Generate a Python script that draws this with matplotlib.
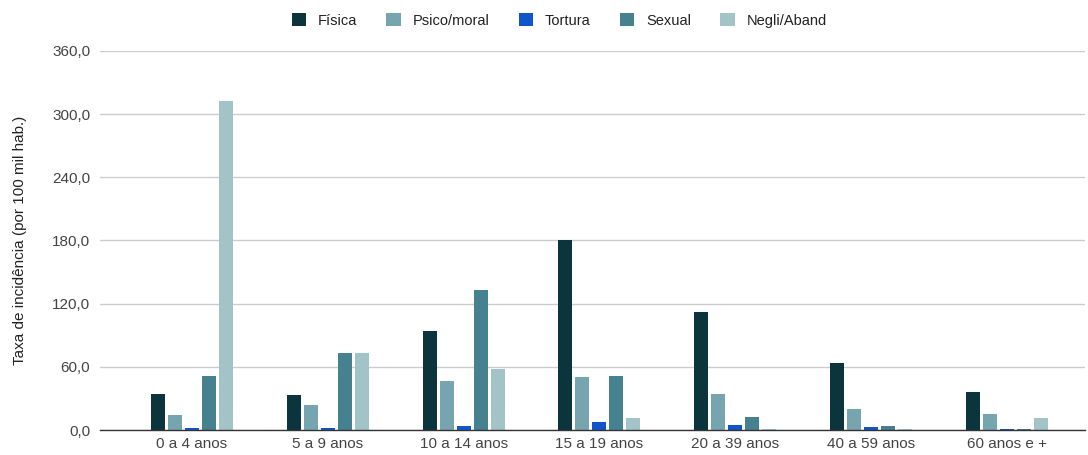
import matplotlib
matplotlib.use("Agg")
import matplotlib.pyplot as plt
import numpy as np

plt.rcParams['font.family'] = ['Liberation Sans', 'DejaVu Sans']

categories = ["0 a 4 anos", "5 a 9 anos", "10 a 14 anos", "15 a 19 anos",
              "20 a 39 anos", "40 a 59 anos", "60 anos e +"]
series_names = ["Física", "Psico/moral", "Tortura", "Sexual", "Negli/Aband"]
fisica = [34.2, 33.2, 94.0, 180.5, 112.0, 63.6, 36.0]
psico = [14.2, 23.7, 46.5, 50.3, 34.2, 20.0, 15.2]
tortura = [1.5, 1.5, 3.8, 7.6, 4.8, 2.8, 1.2]
sexual = [51.3, 73.1, 133.0, 51.3, 12.3, 3.8, 1.2]
negli = [312.5, 73.1, 58.0, 11.4, 1.0, 1.0, 11.4]
yticks = [0, 60, 120, 180, 240, 300, 360]
colors = ["#0c343d", "#76a5af", "#1155cc", "#45818e", "#a2c4c9"]

series = [fisica, psico, tortura, sexual, negli]

fig = plt.figure(figsize=(10.88, 4.55), dpi=100)
ax = fig.add_axes([100/1088, 25/455, 985/1088, 379/455])

x = np.arange(len(categories))
step = 0.125
width = 0.103
for i, (vals, c, name) in enumerate(zip(series, colors, series_names)):
    ax.bar(x + (i - 2) * step, vals, width=width, color=c, label=name, zorder=3)

ax.set_xlim(-0.677, 6.575)
ax.set_ylim(0, 360)
ax.set_yticks(yticks)
ax.set_yticklabels([f"{v:.1f}".replace(".", ",") for v in yticks])
ax.set_xticks(x)
ax.set_xticklabels(categories)
ax.tick_params(axis='both', length=0, labelsize=11, colors="#444444")
ax.tick_params(axis='y', pad=7)
ax.tick_params(axis='x', pad=5)
ax.grid(axis='y', color="#cccccc", linewidth=1, zorder=0)
for s in ['top', 'right', 'left']:
    ax.spines[s].set_visible(False)
ax.spines['bottom'].set_color("#333333")
ax.spines['bottom'].set_linewidth(1)
ax.spines['bottom'].set_zorder(4)

ax.set_ylabel("Taxa de incidência (por 100 mil hab.)", fontsize=11, color="#222222", labelpad=18)

fig.legend(loc='upper center', bbox_to_anchor=(0.514, 1.0), ncol=5, frameon=False,
           fontsize=10.5, handlelength=1.0, handleheight=1.0, columnspacing=2.0,
           handletextpad=0.8, labelcolor="#222222")

fig.savefig("out.png", dpi=100)
